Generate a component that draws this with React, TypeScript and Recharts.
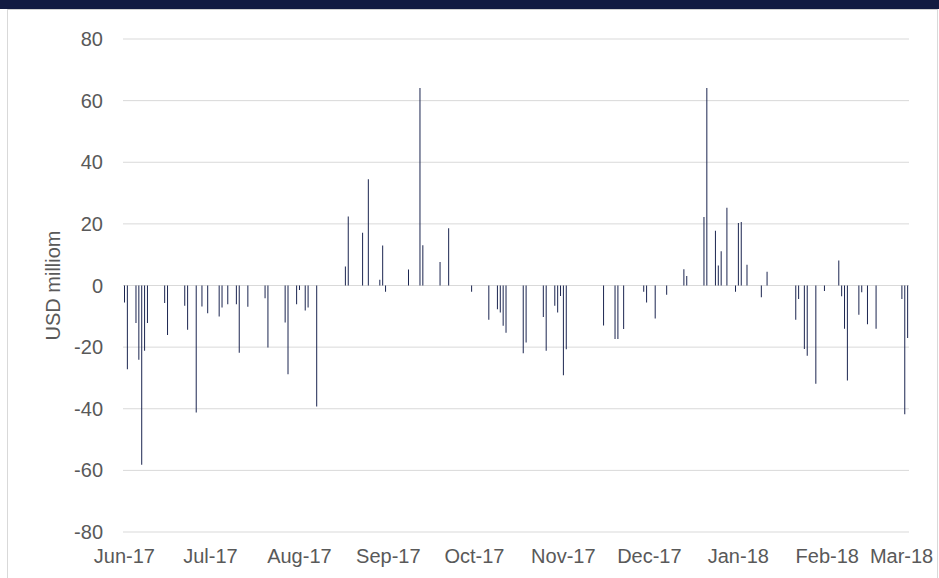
import { Bar, BarChart, CartesianGrid, XAxis, YAxis } from "recharts";

// daily net flows, USD million (trading days only)
const START_DATE = "2017-06-01";

const monthTicks = [
  "2017-06-01", "2017-07-01", "2017-08-01", "2017-09-01", "2017-10-01",
  "2017-11-01", "2017-12-01", "2018-01-01", "2018-02-01", "2018-03-01",
];
const monthLabels = [
  "Jun-17", "Jul-17", "Aug-17", "Sep-17", "Oct-17",
  "Nov-17", "Dec-17", "Jan-18", "Feb-18", "Mar-18",
];

const flowDates = [
  "2017-06-01", "2017-06-02", "2017-06-05", "2017-06-06", "2017-06-07", "2017-06-08", "2017-06-09",
  "2017-06-15", "2017-06-16", "2017-06-22", "2017-06-23", "2017-06-26", "2017-06-28", "2017-06-30",
  "2017-07-04", "2017-07-05", "2017-07-07", "2017-07-10", "2017-07-11", "2017-07-14", "2017-07-20",
  "2017-07-21", "2017-07-27", "2017-07-28", "2017-07-31", "2017-08-01", "2017-08-03", "2017-08-04",
  "2017-08-07", "2017-08-17", "2017-08-18", "2017-08-23", "2017-08-25", "2017-08-29", "2017-08-30",
  "2017-08-31", "2017-09-08", "2017-09-12", "2017-09-13", "2017-09-19", "2017-09-22", "2017-09-30",
  "2017-10-06", "2017-10-09", "2017-10-10", "2017-10-11", "2017-10-12", "2017-10-18", "2017-10-19",
  "2017-10-25", "2017-10-26", "2017-10-29", "2017-10-30", "2017-10-31", "2017-11-01", "2017-11-02",
  "2017-11-15", "2017-11-19", "2017-11-20", "2017-11-22", "2017-11-29", "2017-11-30", "2017-12-03",
  "2017-12-07", "2017-12-13", "2017-12-14", "2017-12-20", "2017-12-21", "2017-12-24", "2017-12-25",
  "2017-12-26", "2017-12-28", "2017-12-31", "2018-01-01", "2018-01-02", "2018-01-04", "2018-01-09",
  "2018-01-11", "2018-01-21", "2018-01-22", "2018-01-24", "2018-01-25", "2018-01-28", "2018-01-31",
  "2018-02-05", "2018-02-06", "2018-02-07", "2018-02-08", "2018-02-12", "2018-02-13", "2018-02-15",
  "2018-02-18", "2018-02-27", "2018-02-28", "2018-03-01",
];
const flowValues = [
  -5.5, -27.2, -12.2, -24.1, -58.2, -21.2, -12.2,
  -5.7, -16.1, -6.6, -14.4, -41.2, -6.8, -9.0,
  -10.1, -7.1, -6.1, -6.1, -21.8, -6.9, -4.1,
  -20.1, -12.0, -28.8, -6.1, -1.5, -8.1, -7.1,
  -39.3, 6.2, 22.4, 17.1, 34.5, 1.9, 13.0,
  -2.0, 5.2, 64.1, 13.1, 7.6, 18.6, -2.0,
  -11.1, -7.7, -8.8, -13.1, -15.3, -22.0, -18.5,
  -10.2, -21.2, -6.6, -8.8, -3.4, -29.1, -20.7,
  -13.0, -17.4, -17.4, -14.1, -2.0, -5.5, -10.7,
  -3.0, 5.3, 3.1, 22.2, 64.1, 17.8, 6.5,
  11.1, 25.2, -2.0, 20.3, 20.6, 6.7, -3.8,
  4.5, -11.1, -4.4, -20.6, -22.8, -31.9, -1.8,
  8.1, -3.5, -14.0, -30.8, -9.5, -2.2, -12.6,
  -14.0, -4.4, -41.8, -17.0,
];

const yTicks = [-80, -60, -40, -20, 0, 20, 40, 60, 80];

const FONT = "'Liberation Sans', Arial, Helvetica, sans-serif";
const TEXT = "#595959";
const BAR = "#1B2550";

function dayOffset(date: string): number {
  const [y, m, d] = date.split("-").map(Number);
  const [y0, m0, d0] = START_DATE.split("-").map(Number);
  return Math.round((Date.UTC(y, m - 1, d) - Date.UTC(y0, m0 - 1, d0)) / 86400000);
}

const tickDays = monthTicks.map(dayOffset);
const data = flowDates.map((date, i) => ({ date, day: dayOffset(date), value: flowValues[i] }));

function MonthTick(props: any) {
  const { x, y, payload, index } = props;
  const i = tickDays.indexOf(payload.value);
  const last = index === tickDays.length - 1;
  return (
    <text
      x={last ? x - 6 : x}
      y={y}
      dy="0.71em"
      textAnchor="middle"
      fill={TEXT}
      fontSize={20}
      fontFamily={FONT}
    >
      {monthLabels[i]}
    </text>
  );
}

export default function App() {
  return (
    <div style={{ position: "fixed", left: 0, top: 0, width: 939, height: 578, background: "#fff", overflow: "hidden" }}>
      <div style={{ position: "absolute", left: 0, top: 0, width: 939, height: 9, background: "#121B41" }} />
      <div
        style={{
          position: "absolute",
          left: 7,
          top: 9,
          width: 929,
          height: 600,
          borderLeft: "1px solid #d9d9d9",
          borderRight: "1px solid #d9d9d9",
          borderTop: "1px solid #d0d0d0",
        }}
      />
      <div style={{ position: "absolute", left: 0, top: 0 }}>
        <BarChart
          width={939}
          height={578}
          data={data}
          margin={{ top: 39, right: 30, bottom: 0, left: 0 }}
        >
          <CartesianGrid vertical={false} stroke="#d9d9d9" strokeWidth={1} />
          <XAxis
            dataKey="day"
            type="number"
            domain={[-0.5, 273.5]}
            ticks={tickDays}
            interval={0}
            height={46}
            axisLine={false}
            tickLine={false}
            tickMargin={11}
            tick={<MonthTick />}
          />
          <YAxis
            type="number"
            domain={[-80, 80]}
            ticks={yTicks}
            width={123}
            axisLine={false}
            tickLine={false}
            tickMargin={14}
            tick={{ fontSize: 20, fill: TEXT, fontFamily: FONT }}
            label={{
              value: "USD milliom",
              angle: -90,
              position: "center",
              dx: -9,
              fontSize: 20,
              fill: TEXT,
              fontFamily: FONT,
            }}
          />
          <Bar dataKey="value" fill={BAR} barSize={1} isAnimationActive={false} />
        </BarChart>
      </div>
    </div>
  );
}
